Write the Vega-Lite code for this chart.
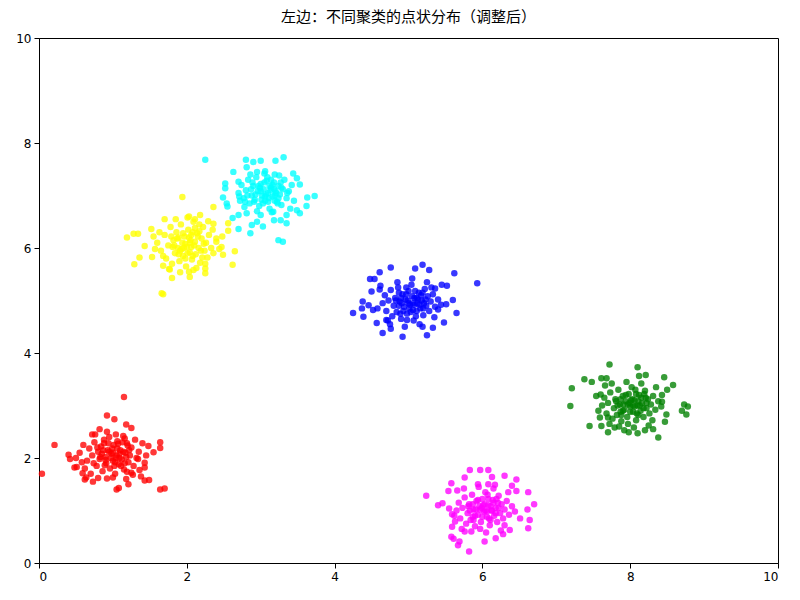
{
"$schema":"https://vega.github.io/schema/vega-lite/v6.json",
"autosize":{"type":"none"},
"padding":{"left":39,"top":38,"right":22,"bottom":37},
"width":739,"height":525,
"background":"white",
"title":{"text":"左边：不同聚类的点状分布（调整后）","font":"Noto Sans CJK SC","fontSize":15,"fontWeight":"normal","color":"black","offset":7},
"config":{"view":{"stroke":"black","strokeWidth":1},
"axis":{"grid":false,"domainColor":"black","tickColor":"black","labelColor":"black","labelFont":"DejaVu Sans","labelFontSize":12,"tickSize":5,"labelPadding":3,"title":null}},
"data":{"values":[
{"x":1.15,"y":3.16,"c":"r"},{"x":0.21,"y":2.25,"c":"r"},{"x":0.04,"y":1.70,"c":"r"},{"x":0.92,"y":2.81,"c":"r"},{"x":1.02,"y":2.74,"c":"r"},{"x":0.82,"y":2.55,"c":"r"},{"x":0.72,"y":2.45,"c":"r"},{"x":1.18,"y":2.64,"c":"r"},{"x":1.25,"y":2.57,"c":"r"},{"x":1.64,"y":2.30,"c":"r"},{"x":1.64,"y":2.19,"c":"r"},{"x":1.48,"y":2.23,"c":"r"},{"x":1.55,"y":2.11,"c":"r"},{"x":1.64,"y":1.40,"c":"r"},{"x":1.70,"y":1.42,"c":"r"},{"x":1.43,"y":1.57,"c":"r"},{"x":1.49,"y":1.58,"c":"r"},{"x":1.21,"y":1.50,"c":"r"},{"x":1.05,"y":1.40,"c":"r"},{"x":1.08,"y":1.43,"c":"r"},{"x":0.73,"y":1.55,"c":"r"},{"x":0.62,"y":1.59,"c":"r"},{"x":0.40,"y":2.06,"c":"r"},{"x":0.42,"y":1.98,"c":"r"},{"x":0.48,"y":1.82,"c":"r"},{"x":0.51,"y":1.83,"c":"r"},{"x":0.59,"y":1.71,"c":"r"},{"x":0.64,"y":1.63,"c":"r"},{"x":0.92,"y":1.61,"c":"r"},{"x":1.00,"y":1.63,"c":"r"},{"x":1.34,"y":1.98,"c":"r"},{"x":1.43,"y":1.91,"c":"r"},{"x":1.43,"y":1.82,"c":"r"},{"x":1.36,"y":1.77,"c":"r"},{"x":1.25,"y":1.72,"c":"r"},{"x":1.19,"y":1.74,"c":"r"},
{"x":0.55,"y":2.10,"c":"r"},{"x":0.60,"y":2.25,"c":"r"},{"x":0.65,"y":1.95,"c":"r"},{"x":0.68,"y":2.18,"c":"r"},{"x":0.72,"y":2.05,"c":"r"},{"x":0.75,"y":2.30,"c":"r"},{"x":0.78,"y":1.85,"c":"r"},{"x":0.80,"y":2.12,"c":"r"},{"x":0.82,"y":1.98,"c":"r"},{"x":0.84,"y":2.22,"c":"r"},{"x":0.86,"y":1.75,"c":"r"},{"x":0.88,"y":2.35,"c":"r"},{"x":0.90,"y":2.02,"c":"r"},{"x":0.91,"y":1.90,"c":"r"},{"x":0.93,"y":2.15,"c":"r"},{"x":0.95,"y":2.40,"c":"r"},{"x":0.96,"y":1.80,"c":"r"},{"x":0.98,"y":2.08,"c":"r"},{"x":1.00,"y":1.95,"c":"r"},{"x":1.01,"y":2.25,"c":"r"},{"x":1.03,"y":1.70,"c":"r"},{"x":1.05,"y":2.05,"c":"r"},{"x":1.06,"y":2.32,"c":"r"},{"x":1.08,"y":1.88,"c":"r"},{"x":1.10,"y":2.15,"c":"r"},{"x":1.12,"y":1.97,"c":"r"},{"x":1.14,"y":2.42,"c":"r"},{"x":1.15,"y":1.78,"c":"r"},{"x":1.17,"y":2.10,"c":"r"},{"x":1.19,"y":2.28,"c":"r"},{"x":1.21,"y":1.92,"c":"r"},{"x":1.23,"y":2.05,"c":"r"},{"x":1.25,"y":2.20,"c":"r"},{"x":1.28,"y":1.85,"c":"r"},{"x":1.30,"y":2.35,"c":"r"},{"x":1.32,"y":2.00,"c":"r"},{"x":1.35,"y":2.12,"c":"r"},{"x":1.38,"y":1.65,"c":"r"},{"x":0.62,"y":1.80,"c":"r"},{"x":0.70,"y":1.70,"c":"r"},{"x":0.76,"y":2.45,"c":"r"},{"x":0.92,"y":2.50,"c":"r"},{"x":1.04,"y":2.45,"c":"r"},{"x":1.18,"y":1.60,"c":"r"},{"x":1.27,"y":1.68,"c":"r"},{"x":0.58,"y":1.92,"c":"r"},{"x":0.85,"y":2.08,"c":"r"},{"x":0.99,"y":2.18,"c":"r"},{"x":1.09,"y":2.00,"c":"r"},{"x":1.13,"y":2.30,"c":"r"},{"x":0.80,"y":1.62,"c":"r"},{"x":1.40,"y":2.28,"c":"r"},{"x":1.45,"y":2.05,"c":"r"},{"x":0.50,"y":2.00,"c":"r"},{"x":0.74,"y":1.90,"c":"r"},{"x":1.02,"y":1.85,"c":"r"},{"x":1.16,"y":2.37,"c":"r"},{"x":0.88,"y":2.28,"c":"r"},
{"x":0.83,"y":2.02,"c":"r"},{"x":0.87,"y":2.15,"c":"r"},{"x":0.90,"y":1.96,"c":"r"},{"x":0.94,"y":2.28,"c":"r"},{"x":0.97,"y":2.00,"c":"r"},{"x":1.00,"y":2.10,"c":"r"},{"x":1.03,"y":1.92,"c":"r"},{"x":1.06,"y":2.18,"c":"r"},{"x":1.09,"y":2.08,"c":"r"},{"x":1.11,"y":1.85,"c":"r"},{"x":1.14,"y":2.12,"c":"r"},{"x":1.18,"y":2.02,"c":"r"},{"x":1.22,"y":2.15,"c":"r"},{"x":0.95,"y":2.12,"c":"r"},{"x":1.04,"y":2.00,"c":"r"},{"x":0.89,"y":1.86,"c":"r"},{"x":1.16,"y":1.90,"c":"r"},{"x":1.20,"y":2.24,"c":"r"},{"x":0.79,"y":2.20,"c":"r"},{"x":1.07,"y":2.27,"c":"r"},
{"x":2.25,"y":7.68,"c":"c"},{"x":2.80,"y":7.68,"c":"c"},{"x":2.90,"y":7.64,"c":"c"},{"x":3.00,"y":7.66,"c":"c"},{"x":3.20,"y":7.66,"c":"c"},{"x":3.31,"y":7.73,"c":"c"},{"x":2.81,"y":7.54,"c":"c"},{"x":2.63,"y":7.45,"c":"c"},{"x":2.52,"y":7.23,"c":"c"},{"x":2.52,"y":7.14,"c":"c"},{"x":2.49,"y":6.96,"c":"c"},{"x":2.54,"y":6.85,"c":"c"},{"x":2.55,"y":6.79,"c":"c"},{"x":2.70,"y":7.26,"c":"c"},{"x":2.71,"y":6.98,"c":"c"},{"x":2.79,"y":6.88,"c":"c"},{"x":2.81,"y":6.66,"c":"c"},{"x":2.70,"y":6.63,"c":"c"},{"x":2.62,"y":6.57,"c":"c"},{"x":2.70,"y":6.36,"c":"c"},{"x":2.86,"y":6.28,"c":"c"},{"x":2.88,"y":6.44,"c":"c"},{"x":2.95,"y":6.50,"c":"c"},{"x":3.03,"y":6.41,"c":"c"},{"x":3.00,"y":6.63,"c":"c"},{"x":3.17,"y":6.69,"c":"c"},{"x":3.18,"y":6.53,"c":"c"},{"x":3.27,"y":6.53,"c":"c"},{"x":3.35,"y":6.47,"c":"c"},{"x":3.35,"y":6.63,"c":"c"},{"x":3.24,"y":6.15,"c":"c"},{"x":3.30,"y":6.12,"c":"c"},{"x":3.49,"y":6.72,"c":"c"},{"x":3.53,"y":6.66,"c":"c"},{"x":3.62,"y":6.80,"c":"c"},{"x":3.63,"y":6.96,"c":"c"},{"x":3.73,"y":6.99,"c":"c"},{"x":3.53,"y":7.21,"c":"c"},{"x":3.49,"y":7.33,"c":"c"},{"x":3.44,"y":7.42,"c":"c"},{"x":3.19,"y":7.40,"c":"c"},{"x":2.95,"y":7.45,"c":"c"},{"x":3.06,"y":7.46,"c":"c"},
{"x":2.70,"y":7.05,"c":"c"},{"x":2.74,"y":7.20,"c":"c"},{"x":2.77,"y":6.95,"c":"c"},{"x":2.80,"y":7.10,"c":"c"},{"x":2.83,"y":7.30,"c":"c"},{"x":2.85,"y":6.85,"c":"c"},{"x":2.88,"y":7.00,"c":"c"},{"x":2.90,"y":7.18,"c":"c"},{"x":2.92,"y":6.92,"c":"c"},{"x":2.94,"y":7.35,"c":"c"},{"x":2.96,"y":7.08,"c":"c"},{"x":2.98,"y":6.80,"c":"c"},{"x":3.00,"y":7.22,"c":"c"},{"x":3.02,"y":7.00,"c":"c"},{"x":3.04,"y":7.12,"c":"c"},{"x":3.06,"y":6.90,"c":"c"},{"x":3.08,"y":7.28,"c":"c"},{"x":3.10,"y":7.05,"c":"c"},{"x":3.12,"y":6.75,"c":"c"},{"x":3.14,"y":7.15,"c":"c"},{"x":3.16,"y":6.98,"c":"c"},{"x":3.18,"y":7.25,"c":"c"},{"x":3.20,"y":7.08,"c":"c"},{"x":3.22,"y":6.88,"c":"c"},{"x":3.24,"y":7.18,"c":"c"},{"x":3.26,"y":7.02,"c":"c"},{"x":3.28,"y":6.82,"c":"c"},{"x":3.30,"y":7.12,"c":"c"},{"x":3.32,"y":7.30,"c":"c"},{"x":3.35,"y":6.95,"c":"c"},{"x":3.38,"y":7.08,"c":"c"},{"x":3.42,"y":7.20,"c":"c"},{"x":3.45,"y":6.90,"c":"c"},{"x":2.86,"y":7.40,"c":"c"},{"x":3.05,"y":7.42,"c":"c"},{"x":3.25,"y":7.38,"c":"c"},{"x":2.95,"y":6.70,"c":"c"},{"x":3.15,"y":6.68,"c":"c"},{"x":2.78,"y":6.78,"c":"c"},{"x":3.40,"y":6.75,"c":"c"},{"x":2.99,"y":7.15,"c":"c"},{"x":3.11,"y":6.95,"c":"c"},{"x":2.89,"y":7.25,"c":"c"},{"x":3.19,"y":7.00,"c":"c"},{"x":3.03,"y":6.85,"c":"c"},{"x":3.27,"y":7.25,"c":"c"},{"x":2.82,"y":7.00,"c":"c"},{"x":3.09,"y":7.35,"c":"c"},{"x":2.72,"y":6.90,"c":"c"},{"x":3.36,"y":7.05,"c":"c"},
{"x":2.93,"y":7.02,"c":"c"},{"x":2.97,"y":7.18,"c":"c"},{"x":3.01,"y":6.92,"c":"c"},{"x":3.05,"y":7.25,"c":"c"},{"x":3.07,"y":7.02,"c":"c"},{"x":3.10,"y":6.88,"c":"c"},{"x":3.13,"y":7.10,"c":"c"},{"x":3.16,"y":7.20,"c":"c"},{"x":3.19,"y":6.90,"c":"c"},{"x":3.21,"y":7.05,"c":"c"},{"x":3.24,"y":6.95,"c":"c"},{"x":3.28,"y":7.15,"c":"c"},{"x":3.00,"y":7.08,"c":"c"},{"x":3.06,"y":6.98,"c":"c"},{"x":3.12,"y":7.18,"c":"c"},{"x":2.91,"y":6.88,"c":"c"},{"x":3.18,"y":7.12,"c":"c"},{"x":3.23,"y":6.85,"c":"c"},{"x":2.87,"y":7.12,"c":"c"},{"x":3.14,"y":7.30,"c":"c"},
{"x":1.94,"y":6.97,"c":"y"},{"x":2.36,"y":6.78,"c":"y"},{"x":1.70,"y":6.55,"c":"y"},{"x":1.19,"y":6.20,"c":"y"},{"x":1.28,"y":6.27,"c":"y"},{"x":1.34,"y":6.27,"c":"y"},{"x":1.52,"y":6.36,"c":"y"},{"x":1.55,"y":6.22,"c":"y"},{"x":1.43,"y":6.04,"c":"y"},{"x":1.57,"y":5.98,"c":"y"},{"x":1.36,"y":5.82,"c":"y"},{"x":1.53,"y":5.83,"c":"y"},{"x":1.29,"y":5.69,"c":"y"},{"x":1.68,"y":5.66,"c":"y"},{"x":1.77,"y":5.59,"c":"y"},{"x":1.80,"y":5.43,"c":"y"},{"x":1.91,"y":5.54,"c":"y"},{"x":2.04,"y":5.45,"c":"y"},{"x":2.09,"y":5.58,"c":"y"},{"x":2.25,"y":5.61,"c":"y"},{"x":2.25,"y":5.52,"c":"y"},{"x":1.66,"y":5.14,"c":"y"},{"x":1.68,"y":5.12,"c":"y"},{"x":2.62,"y":5.68,"c":"y"},{"x":2.65,"y":5.94,"c":"y"},{"x":2.49,"y":5.87,"c":"y"},{"x":2.47,"y":6.02,"c":"y"},{"x":2.40,"y":6.18,"c":"y"},{"x":2.48,"y":6.22,"c":"y"},{"x":2.36,"y":6.46,"c":"y"},{"x":2.29,"y":6.51,"c":"y"},{"x":2.18,"y":6.63,"c":"y"},{"x":2.03,"y":6.60,"c":"y"},{"x":2.11,"y":6.55,"c":"y"},{"x":2.56,"y":6.47,"c":"y"},{"x":2.56,"y":6.33,"c":"y"},
{"x":1.60,"y":6.10,"c":"y"},{"x":1.65,"y":5.95,"c":"y"},{"x":1.70,"y":6.25,"c":"y"},{"x":1.72,"y":5.80,"c":"y"},{"x":1.75,"y":6.05,"c":"y"},{"x":1.78,"y":6.40,"c":"y"},{"x":1.80,"y":5.70,"c":"y"},{"x":1.82,"y":6.15,"c":"y"},{"x":1.84,"y":5.90,"c":"y"},{"x":1.86,"y":6.30,"c":"y"},{"x":1.88,"y":6.00,"c":"y"},{"x":1.90,"y":5.75,"c":"y"},{"x":1.92,"y":6.45,"c":"y"},{"x":1.94,"y":6.10,"c":"y"},{"x":1.95,"y":5.85,"c":"y"},{"x":1.97,"y":6.22,"c":"y"},{"x":1.99,"y":5.65,"c":"y"},{"x":2.00,"y":6.02,"c":"y"},{"x":2.02,"y":6.35,"c":"y"},{"x":2.04,"y":5.92,"c":"y"},{"x":2.05,"y":6.15,"c":"y"},{"x":2.07,"y":5.78,"c":"y"},{"x":2.09,"y":6.50,"c":"y"},{"x":2.10,"y":6.05,"c":"y"},{"x":2.12,"y":5.88,"c":"y"},{"x":2.14,"y":6.28,"c":"y"},{"x":2.16,"y":6.00,"c":"y"},{"x":2.18,"y":5.72,"c":"y"},{"x":2.20,"y":6.18,"c":"y"},{"x":2.22,"y":6.40,"c":"y"},{"x":2.24,"y":5.95,"c":"y"},{"x":2.26,"y":6.10,"c":"y"},{"x":2.28,"y":5.82,"c":"y"},{"x":2.30,"y":6.25,"c":"y"},{"x":2.33,"y":6.00,"c":"y"},{"x":2.36,"y":5.90,"c":"y"},{"x":2.40,"y":6.12,"c":"y"},{"x":2.44,"y":5.98,"c":"y"},{"x":1.76,"y":5.60,"c":"y"},{"x":1.85,"y":6.55,"c":"y"},{"x":2.01,"y":6.58,"c":"y"},{"x":2.13,"y":5.62,"c":"y"},{"x":1.68,"y":5.85,"c":"y"},{"x":1.93,"y":5.98,"c":"y"},{"x":2.06,"y":6.25,"c":"y"},{"x":2.17,"y":6.45,"c":"y"},{"x":1.81,"y":6.02,"c":"y"},{"x":2.25,"y":5.70,"c":"y"},{"x":1.98,"y":5.80,"c":"y"},{"x":2.11,"y":6.38,"c":"y"},{"x":1.63,"y":6.30,"c":"y"},{"x":2.35,"y":6.35,"c":"y"},{"x":1.89,"y":6.20,"c":"y"},{"x":2.03,"y":5.55,"c":"y"},
{"x":1.83,"y":6.05,"c":"y"},{"x":1.87,"y":6.18,"c":"y"},{"x":1.91,"y":5.95,"c":"y"},{"x":1.95,"y":6.28,"c":"y"},{"x":1.98,"y":6.08,"c":"y"},{"x":2.01,"y":5.90,"c":"y"},{"x":2.03,"y":6.20,"c":"y"},{"x":2.06,"y":6.02,"c":"y"},{"x":2.08,"y":5.85,"c":"y"},{"x":2.11,"y":6.12,"c":"y"},{"x":2.15,"y":6.22,"c":"y"},{"x":2.19,"y":5.95,"c":"y"},{"x":2.23,"y":6.08,"c":"y"},{"x":1.96,"y":6.00,"c":"y"},{"x":2.04,"y":6.10,"c":"y"},{"x":1.89,"y":5.88,"c":"y"},{"x":2.17,"y":6.32,"c":"y"},{"x":2.21,"y":5.82,"c":"y"},{"x":1.79,"y":6.22,"c":"y"},{"x":2.08,"y":6.30,"c":"y"},
{"x":5.19,"y":5.68,"c":"b"},{"x":4.76,"y":5.63,"c":"b"},{"x":4.61,"y":5.54,"c":"b"},{"x":5.28,"y":5.58,"c":"b"},{"x":5.62,"y":5.52,"c":"b"},{"x":5.93,"y":5.33,"c":"b"},{"x":4.48,"y":5.41,"c":"b"},{"x":4.54,"y":5.41,"c":"b"},{"x":5.09,"y":5.61,"c":"b"},{"x":4.25,"y":4.76,"c":"b"},{"x":4.37,"y":4.85,"c":"b"},{"x":4.39,"y":4.69,"c":"b"},{"x":4.38,"y":4.98,"c":"b"},{"x":4.46,"y":4.91,"c":"b"},{"x":4.52,"y":4.82,"c":"b"},{"x":4.57,"y":4.57,"c":"b"},{"x":4.65,"y":4.38,"c":"b"},{"x":4.76,"y":4.46,"c":"b"},{"x":4.92,"y":4.31,"c":"b"},{"x":4.70,"y":4.63,"c":"b"},{"x":4.50,"y":5.17,"c":"b"},{"x":4.61,"y":5.21,"c":"b"},{"x":5.19,"y":4.50,"c":"b"},{"x":5.33,"y":4.48,"c":"b"},{"x":5.25,"y":4.34,"c":"b"},{"x":5.48,"y":4.58,"c":"b"},{"x":5.65,"y":4.76,"c":"b"},{"x":5.60,"y":5.01,"c":"b"},{"x":5.51,"y":4.93,"c":"b"},{"x":5.52,"y":5.28,"c":"b"},{"x":5.45,"y":5.30,"c":"b"},{"x":5.36,"y":5.23,"c":"b"},{"x":5.40,"y":4.83,"c":"b"},{"x":4.98,"y":4.63,"c":"b"},
{"x":4.65,"y":4.95,"c":"b"},{"x":4.68,"y":5.10,"c":"b"},{"x":4.70,"y":4.80,"c":"b"},{"x":4.73,"y":5.00,"c":"b"},{"x":4.76,"y":5.20,"c":"b"},{"x":4.78,"y":4.70,"c":"b"},{"x":4.80,"y":4.90,"c":"b"},{"x":4.82,"y":5.05,"c":"b"},{"x":4.84,"y":4.78,"c":"b"},{"x":4.86,"y":5.25,"c":"b"},{"x":4.88,"y":4.98,"c":"b"},{"x":4.90,"y":4.65,"c":"b"},{"x":4.92,"y":5.12,"c":"b"},{"x":4.94,"y":4.88,"c":"b"},{"x":4.96,"y":5.02,"c":"b"},{"x":4.98,"y":4.75,"c":"b"},{"x":5.00,"y":5.18,"c":"b"},{"x":5.02,"y":4.92,"c":"b"},{"x":5.04,"y":5.30,"c":"b"},{"x":5.06,"y":4.82,"c":"b"},{"x":5.08,"y":5.05,"c":"b"},{"x":5.10,"y":4.70,"c":"b"},{"x":5.12,"y":4.95,"c":"b"},{"x":5.14,"y":5.15,"c":"b"},{"x":5.16,"y":4.85,"c":"b"},{"x":5.18,"y":5.00,"c":"b"},{"x":5.20,"y":4.72,"c":"b"},{"x":5.22,"y":5.22,"c":"b"},{"x":5.24,"y":4.90,"c":"b"},{"x":5.26,"y":5.08,"c":"b"},{"x":5.28,"y":4.80,"c":"b"},{"x":5.30,"y":4.98,"c":"b"},{"x":5.33,"y":5.12,"c":"b"},{"x":5.36,"y":4.88,"c":"b"},{"x":5.40,"y":5.02,"c":"b"},{"x":5.44,"y":4.92,"c":"b"},{"x":4.75,"y":4.55,"c":"b"},{"x":4.95,"y":4.50,"c":"b"},{"x":5.15,"y":4.55,"c":"b"},{"x":4.85,"y":5.35,"c":"b"},{"x":5.05,"y":5.42,"c":"b"},{"x":5.25,"y":5.35,"c":"b"},{"x":4.62,"y":5.28,"c":"b"},{"x":4.72,"y":4.62,"c":"b"},{"x":5.35,"y":4.68,"c":"b"},{"x":4.91,"y":4.95,"c":"b"},{"x":5.01,"y":4.85,"c":"b"},{"x":5.11,"y":5.05,"c":"b"},{"x":4.87,"y":5.15,"c":"b"},{"x":5.21,"y":4.95,"c":"b"},{"x":4.97,"y":5.25,"c":"b"},{"x":5.07,"y":4.62,"c":"b"},{"x":5.31,"y":5.25,"c":"b"},{"x":4.58,"y":4.85,"c":"b"},
{"x":4.87,"y":4.90,"c":"b"},{"x":4.90,"y":5.05,"c":"b"},{"x":4.93,"y":4.80,"c":"b"},{"x":4.97,"y":5.12,"c":"b"},{"x":5.00,"y":4.95,"c":"b"},{"x":5.03,"y":4.78,"c":"b"},{"x":5.05,"y":5.08,"c":"b"},{"x":5.08,"y":4.92,"c":"b"},{"x":5.11,"y":4.80,"c":"b"},{"x":5.13,"y":5.02,"c":"b"},{"x":5.17,"y":5.10,"c":"b"},{"x":5.20,"y":4.85,"c":"b"},{"x":5.23,"y":5.02,"c":"b"},{"x":4.99,"y":5.00,"c":"b"},{"x":5.06,"y":4.95,"c":"b"},{"x":4.89,"y":4.75,"c":"b"},{"x":5.15,"y":4.92,"c":"b"},{"x":5.19,"y":5.15,"c":"b"},{"x":4.83,"y":5.00,"c":"b"},{"x":5.09,"y":5.18,"c":"b"},
{"x":7.72,"y":3.78,"c":"g"},{"x":8.10,"y":3.73,"c":"g"},{"x":7.21,"y":3.33,"c":"g"},{"x":7.19,"y":2.99,"c":"g"},{"x":7.38,"y":3.50,"c":"g"},{"x":7.48,"y":3.45,"c":"g"},{"x":7.61,"y":3.52,"c":"g"},{"x":7.68,"y":3.52,"c":"g"},{"x":7.45,"y":2.61,"c":"g"},{"x":7.61,"y":2.61,"c":"g"},{"x":7.70,"y":2.49,"c":"g"},{"x":7.79,"y":2.58,"c":"g"},{"x":7.92,"y":2.53,"c":"g"},{"x":7.98,"y":2.49,"c":"g"},{"x":8.10,"y":2.47,"c":"g"},{"x":8.20,"y":2.53,"c":"g"},{"x":8.31,"y":2.55,"c":"g"},{"x":8.38,"y":2.39,"c":"g"},{"x":8.47,"y":2.69,"c":"g"},{"x":8.49,"y":2.83,"c":"g"},{"x":8.43,"y":3.07,"c":"g"},{"x":8.43,"y":3.20,"c":"g"},{"x":8.50,"y":3.30,"c":"g"},{"x":8.58,"y":3.39,"c":"g"},{"x":8.46,"y":3.54,"c":"g"},{"x":8.21,"y":3.58,"c":"g"},{"x":8.12,"y":3.56,"c":"g"},{"x":8.73,"y":3.02,"c":"g"},{"x":8.78,"y":2.98,"c":"g"},{"x":8.70,"y":2.90,"c":"g"},{"x":8.76,"y":2.83,"c":"g"},{"x":7.54,"y":3.18,"c":"g"},{"x":7.60,"y":3.21,"c":"g"},{"x":7.59,"y":2.77,"c":"g"},{"x":7.70,"y":2.77,"c":"g"},
{"x":7.62,"y":3.00,"c":"g"},{"x":7.65,"y":3.15,"c":"g"},{"x":7.68,"y":2.85,"c":"g"},{"x":7.70,"y":3.05,"c":"g"},{"x":7.73,"y":3.25,"c":"g"},{"x":7.76,"y":2.75,"c":"g"},{"x":7.78,"y":2.95,"c":"g"},{"x":7.80,"y":3.12,"c":"g"},{"x":7.82,"y":2.82,"c":"g"},{"x":7.84,"y":3.30,"c":"g"},{"x":7.86,"y":3.02,"c":"g"},{"x":7.88,"y":2.70,"c":"g"},{"x":7.90,"y":3.18,"c":"g"},{"x":7.92,"y":2.92,"c":"g"},{"x":7.94,"y":3.08,"c":"g"},{"x":7.96,"y":2.78,"c":"g"},{"x":7.98,"y":3.22,"c":"g"},{"x":8.00,"y":2.98,"c":"g"},{"x":8.02,"y":3.35,"c":"g"},{"x":8.04,"y":2.88,"c":"g"},{"x":8.06,"y":3.10,"c":"g"},{"x":8.08,"y":2.72,"c":"g"},{"x":8.10,"y":3.00,"c":"g"},{"x":8.12,"y":3.20,"c":"g"},{"x":8.14,"y":2.90,"c":"g"},{"x":8.16,"y":3.05,"c":"g"},{"x":8.18,"y":2.78,"c":"g"},{"x":8.20,"y":3.28,"c":"g"},{"x":8.22,"y":2.95,"c":"g"},{"x":8.24,"y":3.12,"c":"g"},{"x":8.26,"y":2.85,"c":"g"},{"x":8.28,"y":3.02,"c":"g"},{"x":8.31,"y":3.18,"c":"g"},{"x":8.34,"y":2.92,"c":"g"},{"x":8.38,"y":3.08,"c":"g"},{"x":8.42,"y":2.98,"c":"g"},{"x":7.75,"y":3.42,"c":"g"},{"x":7.95,"y":3.45,"c":"g"},{"x":8.15,"y":3.42,"c":"g"},{"x":7.85,"y":2.60,"c":"g"},{"x":8.05,"y":2.58,"c":"g"},{"x":8.25,"y":2.62,"c":"g"},{"x":7.66,"y":3.38,"c":"g"},{"x":7.72,"y":2.65,"c":"g"},{"x":8.35,"y":3.35,"c":"g"},{"x":7.91,"y":3.02,"c":"g"},{"x":8.01,"y":3.10,"c":"g"},{"x":8.11,"y":2.82,"c":"g"},{"x":7.87,"y":2.88,"c":"g"},{"x":8.21,"y":3.15,"c":"g"},{"x":7.97,"y":2.65,"c":"g"},{"x":8.07,"y":3.30,"c":"g"},{"x":8.30,"y":2.72,"c":"g"},{"x":7.57,"y":2.90,"c":"g"},
{"x":7.83,"y":3.00,"c":"g"},{"x":7.87,"y":3.12,"c":"g"},{"x":7.90,"y":2.90,"c":"g"},{"x":7.94,"y":3.20,"c":"g"},{"x":7.97,"y":3.02,"c":"g"},{"x":8.00,"y":2.88,"c":"g"},{"x":8.03,"y":3.12,"c":"g"},{"x":8.06,"y":2.98,"c":"g"},{"x":8.09,"y":2.85,"c":"g"},{"x":8.11,"y":3.08,"c":"g"},{"x":8.15,"y":3.15,"c":"g"},{"x":8.18,"y":2.95,"c":"g"},{"x":8.22,"y":3.05,"c":"g"},{"x":7.99,"y":3.05,"c":"g"},{"x":8.04,"y":3.00,"c":"g"},{"x":7.88,"y":2.82,"c":"g"},{"x":8.13,"y":3.00,"c":"g"},{"x":8.19,"y":3.22,"c":"g"},{"x":7.81,"y":3.08,"c":"g"},{"x":8.08,"y":3.22,"c":"g"},
{"x":5.24,"y":1.28,"c":"m"},{"x":5.83,"y":1.77,"c":"m"},{"x":5.97,"y":1.77,"c":"m"},{"x":6.08,"y":1.77,"c":"m"},{"x":6.13,"y":1.64,"c":"m"},{"x":5.76,"y":1.63,"c":"m"},{"x":6.30,"y":1.66,"c":"m"},{"x":6.46,"y":1.59,"c":"m"},{"x":5.58,"y":1.52,"c":"m"},{"x":5.54,"y":1.37,"c":"m"},{"x":5.40,"y":1.10,"c":"m"},{"x":5.46,"y":1.14,"c":"m"},{"x":5.55,"y":1.04,"c":"m"},{"x":5.59,"y":0.93,"c":"m"},{"x":5.63,"y":0.79,"c":"m"},{"x":5.59,"y":0.69,"c":"m"},{"x":5.58,"y":0.50,"c":"m"},{"x":5.61,"y":0.46,"c":"m"},{"x":5.69,"y":0.41,"c":"m"},{"x":5.67,"y":0.34,"c":"m"},{"x":5.82,"y":0.22,"c":"m"},{"x":5.76,"y":0.60,"c":"m"},{"x":6.03,"y":0.41,"c":"m"},{"x":6.18,"y":0.47,"c":"m"},{"x":6.28,"y":0.55,"c":"m"},{"x":6.37,"y":0.63,"c":"m"},{"x":6.62,"y":0.66,"c":"m"},{"x":6.64,"y":0.82,"c":"m"},{"x":6.70,"y":1.12,"c":"m"},{"x":6.61,"y":1.02,"c":"m"},{"x":6.62,"y":1.35,"c":"m"},{"x":6.46,"y":1.37,"c":"m"},{"x":6.40,"y":1.47,"c":"m"},{"x":6.17,"y":1.49,"c":"m"},{"x":6.08,"y":1.50,"c":"m"},{"x":5.94,"y":1.50,"c":"m"},{"x":6.51,"y":0.85,"c":"m"},
{"x":5.65,"y":1.00,"c":"m"},{"x":5.68,"y":1.15,"c":"m"},{"x":5.70,"y":0.85,"c":"m"},{"x":5.73,"y":1.05,"c":"m"},{"x":5.76,"y":1.25,"c":"m"},{"x":5.78,"y":0.75,"c":"m"},{"x":5.80,"y":0.95,"c":"m"},{"x":5.82,"y":1.12,"c":"m"},{"x":5.84,"y":0.82,"c":"m"},{"x":5.86,"y":1.30,"c":"m"},{"x":5.88,"y":1.02,"c":"m"},{"x":5.90,"y":0.70,"c":"m"},{"x":5.92,"y":1.18,"c":"m"},{"x":5.94,"y":0.92,"c":"m"},{"x":5.96,"y":1.08,"c":"m"},{"x":5.98,"y":0.78,"c":"m"},{"x":6.00,"y":1.22,"c":"m"},{"x":6.02,"y":0.98,"c":"m"},{"x":6.04,"y":1.35,"c":"m"},{"x":6.06,"y":0.88,"c":"m"},{"x":6.08,"y":1.10,"c":"m"},{"x":6.10,"y":0.72,"c":"m"},{"x":6.12,"y":1.00,"c":"m"},{"x":6.14,"y":1.20,"c":"m"},{"x":6.16,"y":0.90,"c":"m"},{"x":6.18,"y":1.05,"c":"m"},{"x":6.20,"y":0.78,"c":"m"},{"x":6.22,"y":1.28,"c":"m"},{"x":6.24,"y":0.95,"c":"m"},{"x":6.26,"y":1.12,"c":"m"},{"x":6.28,"y":0.85,"c":"m"},{"x":6.30,"y":1.02,"c":"m"},{"x":6.33,"y":1.18,"c":"m"},{"x":6.36,"y":0.92,"c":"m"},{"x":6.40,"y":1.08,"c":"m"},{"x":6.44,"y":0.98,"c":"m"},{"x":5.75,"y":1.42,"c":"m"},{"x":5.95,"y":1.45,"c":"m"},{"x":6.15,"y":1.42,"c":"m"},{"x":5.85,"y":0.60,"c":"m"},{"x":6.05,"y":0.58,"c":"m"},{"x":6.25,"y":0.62,"c":"m"},{"x":5.66,"y":1.38,"c":"m"},{"x":5.72,"y":0.65,"c":"m"},{"x":6.35,"y":1.35,"c":"m"},{"x":5.91,"y":1.02,"c":"m"},{"x":6.01,"y":1.10,"c":"m"},{"x":6.11,"y":0.82,"c":"m"},{"x":5.87,"y":0.88,"c":"m"},{"x":6.21,"y":1.15,"c":"m"},{"x":5.97,"y":0.65,"c":"m"},{"x":6.07,"y":1.30,"c":"m"},{"x":6.30,"y":0.72,"c":"m"},{"x":5.62,"y":0.90,"c":"m"},
{"x":5.83,"y":1.00,"c":"m"},{"x":5.87,"y":1.12,"c":"m"},{"x":5.90,"y":0.90,"c":"m"},{"x":5.94,"y":1.20,"c":"m"},{"x":5.97,"y":1.02,"c":"m"},{"x":6.00,"y":0.88,"c":"m"},{"x":6.03,"y":1.12,"c":"m"},{"x":6.06,"y":0.98,"c":"m"},{"x":6.09,"y":0.85,"c":"m"},{"x":6.11,"y":1.08,"c":"m"},{"x":6.15,"y":1.15,"c":"m"},{"x":6.18,"y":0.95,"c":"m"},{"x":6.22,"y":1.05,"c":"m"},{"x":5.99,"y":1.05,"c":"m"},{"x":6.04,"y":1.00,"c":"m"},{"x":5.88,"y":0.82,"c":"m"},{"x":6.13,"y":1.00,"c":"m"},{"x":6.19,"y":1.22,"c":"m"},{"x":5.81,"y":1.08,"c":"m"},{"x":6.08,"y":1.22,"c":"m"}
]},
"mark":{"type":"point","shape":"circle","filled":true,"opacity":0.78,"size":42,"clip":false},
"encoding":{
"x":{"field":"x","type":"quantitative","scale":{"domain":[0,10],"nice":false,"zero":false},"axis":{"values":[0,2,4,6,8,10]}},
"y":{"field":"y","type":"quantitative","scale":{"domain":[0,10],"nice":false,"zero":false},"axis":{"values":[0,2,4,6,8,10]}},
"color":{"field":"c","type":"nominal","scale":{"domain":["r","c","y","b","g","m"],"range":["#ff0000","#00ffff","#ffff00","#0000ff","#008000","#ff00ff"]},"legend":null}
}
}
